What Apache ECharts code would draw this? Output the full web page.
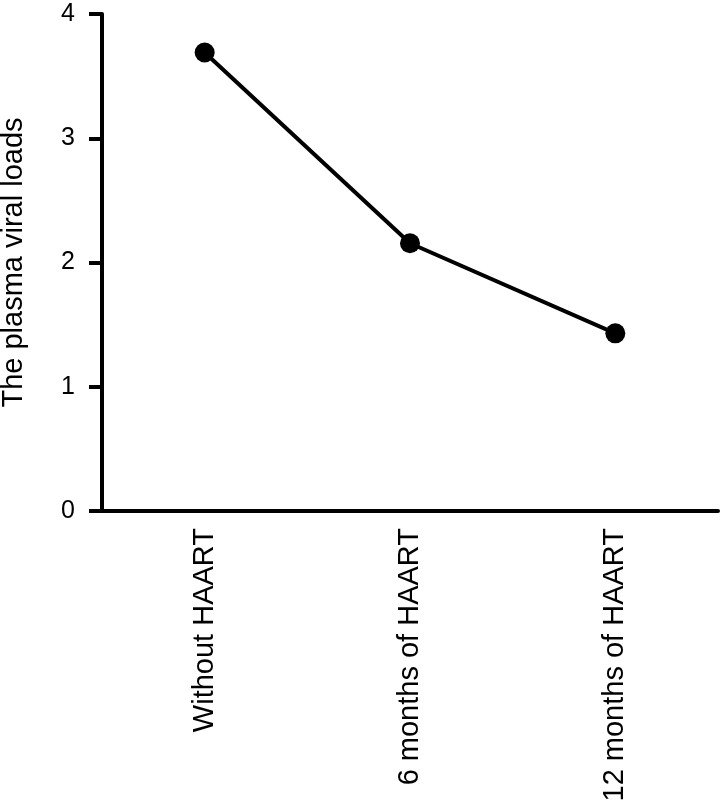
<!DOCTYPE html>
<html><head><meta charset="utf-8">
<script src="https://cdn.jsdelivr.net/npm/echarts@6/dist/echarts.min.js"></script>
<style>html,body{margin:0;padding:0;background:#fff}#c{width:723px;height:804px}</style>
</head><body><div id="c"></div>
<script>
const categories = ['Without HAART', '6 months of HAART', '12 months of HAART'];
const values = [3.69, 2.155, 1.43];
const yTicks = [0, 1, 2, 3, 4];
const yName = 'The plasma viral loads';

const chart = echarts.init(document.getElementById('c'));
const font = 'Liberation Sans, Arial, Helvetica, sans-serif';
chart.setOption({
  animation: false,
  grid: {left: 102, right: 5, top: 14, bottom: 293, containLabel: false, outerBoundsMode: 'none'},
  xAxis: {
    type: 'category', data: categories, boundaryGap: true,
    axisLine: {lineStyle: {color: '#000', width: 4}},
    axisTick: {alignWithLabel: true, length: 11, lineStyle: {color: '#000', width: 4}},
    axisLabel: {rotate: 90, color: '#000', fontSize: 29, fontFamily: font, margin: 17}
  },
  yAxis: {
    type: 'value', min: yTicks[0], max: yTicks[yTicks.length-1], interval: 1,
    name: yName, nameLocation: 'middle', nameGap: 74, nameRotate: 90,
    nameTextStyle: {color: '#000', fontSize: 29, fontFamily: font},
    splitLine: {show: false},
    axisLine: {show: true, lineStyle: {color: '#000', width: 4}},
    axisTick: {show: true, length: 13, lineStyle: {color: '#000', width: 4}},
    axisLabel: {color: '#000', fontSize: 25, fontFamily: font, margin: 27}
  },
  series: [{
    type: 'line', data: values, symbol: 'circle', symbolSize: 20,
    lineStyle: {color: '#000', width: 4}, itemStyle: {color: '#000'}
  }]
});
</script></body></html>
